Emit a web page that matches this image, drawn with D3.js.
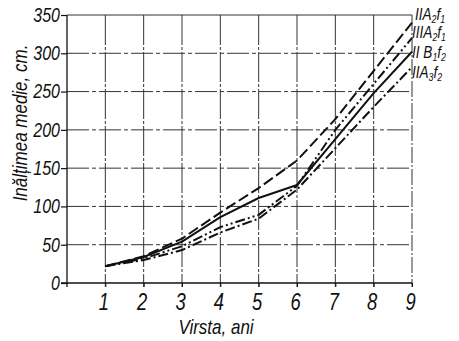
<!DOCTYPE html>
<html>
<head>
<meta charset="utf-8">
<script src="https://cdn.jsdelivr.net/npm/d3@7"></script>
<style>
  body { margin: 0; background: #fff; }
  svg text { font-family: "Liberation Sans", Arial, sans-serif; font-style: italic; fill: #111; }
</style>
</head>
<body>
<div id="chart"></div>
<script>
const ages = [1, 2, 3, 4, 5, 6, 7, 8, 9];
const seriesIIA2f1 = [22, 35, 58, 92, 124, 160, 214, 277, 340];
const seriesIIIA2f1 = [22, 32, 48, 73, 89, 127, 200, 260, 320];
const seriesIIB1f2 = [22, 34, 54, 86, 111, 128, 188, 248, 302];
const seriesIIA3f2 = [22, 30, 43, 66, 84, 122, 176, 230, 282];
const xTicks = [1, 2, 3, 4, 5, 6, 7, 8, 9];
const yTicks = [0, 50, 100, 150, 200, 250, 300, 350];

const series = [
    { base: "II", a: "A", s1: "2", f: "f", s2: "1", values: seriesIIA2f1, dash: "11,4" },
    { base: "III", a: "A", s1: "2", f: "f", s2: "1", values: seriesIIIA2f1, dash: "10,3,2,3,2,3" },
    { base: "II ", a: "B", s1: "1", f: "f", s2: "2", values: seriesIIB1f2, dash: null },
    { base: "II", a: "A", s1: "3", f: "f", s2: "2", values: seriesIIA3f2, dash: "10,3,2,3" }
];

const svgWidth = 459;
const svgHeight = 341;
const narrow = 0.8; // squeeze the italic type horizontally, like the original lettering

const svg = d3.select("#chart")
    .append("svg")
    .attr("width", svgWidth)
    .attr("height", svgHeight);

const x = d3.scaleLinear().domain([0, 9]).range([67, 412]);
const y = d3.scaleLinear().domain([0, 350]).range([283, 15]);

// grid
svg.append("g")
    .selectAll("line")
    .data(xTicks)
    .enter().append("line")
    .attr("x1", d => x(d)).attr("x2", d => x(d))
    .attr("y1", y(350)).attr("y2", y(0) + 4)
    .attr("stroke", "#333")
    .attr("stroke-width", 1)
    .attr("stroke-dasharray", d => d === 9 ? "16,2,2,2" : "30,2,3,2");

svg.append("g")
    .selectAll("line")
    .data(yTicks.filter(d => d > 0))
    .enter().append("line")
    .attr("x1", x(0)).attr("x2", x(9))
    .attr("y1", d => y(d)).attr("y2", d => y(d))
    .attr("stroke", "#333")
    .attr("stroke-width", 1)
    .attr("stroke-dasharray", d => d === 350 ? null : "22,3,4,3");

// axes
const yAxis = svg.append("g")
    .attr("transform", `translate(${x(0)},0)`)
    .call(d3.axisLeft(y).tickValues(yTicks).tickSize(6).tickPadding(1));
yAxis.select(".domain").attr("stroke", "#111").attr("stroke-width", 1.3)
    .attr("d", `M0,${y(350)}V${y(0) + 4}`);
yAxis.selectAll(".tick line").attr("stroke", "#111").attr("stroke-width", 1.2);
yAxis.selectAll(".tick text")
    .attr("font-size", 20)
    .attr("font-family", null)
    .attr("fill", "#111")
    .attr("x", -7 / narrow)
    .attr("transform", `scale(${narrow},1)`);

const xAxis = svg.append("g")
    .attr("transform", `translate(0,${y(0)})`)
    .call(d3.axisBottom(x).tickValues(xTicks).tickSize(4).tickPadding(7));
xAxis.select(".domain").attr("stroke", "#111").attr("stroke-width", 1.3)
    .attr("d", `M${x(0) - 6},0H${x(9)}`);
xAxis.selectAll(".tick line").attr("stroke", "#111");
xAxis.selectAll(".tick text")
    .attr("font-size", 23)
    .attr("font-family", null)
    .attr("fill", "#111")
    .attr("x", -2 / narrow)
    .attr("transform", `scale(${narrow},1)`);

// axis titles
svg.append("text")
    .attr("transform", `translate(216,334) scale(${narrow + 0.05},1)`)
    .attr("text-anchor", "middle")
    .attr("font-size", 20)
    .text("Virsta, ani");

svg.append("text")
    .attr("transform", `translate(27,123) rotate(-90) scale(${narrow + 0.05},1)`)
    .attr("text-anchor", "middle")
    .attr("font-size", 20)
    .text("Inălțimea medie, cm.");

// lines
const line = d3.line()
    .x((d, i) => x(ages[i]))
    .y(d => y(d));

svg.append("g")
    .selectAll("path")
    .data(series)
    .enter().append("path")
    .attr("fill", "none")
    .attr("stroke", "#111")
    .attr("stroke-width", 2)
    .attr("stroke-linejoin", "round")
    .attr("stroke-dasharray", d => d.dash)
    .attr("d", d => line(d.values));

// end labels
const labelY = [14, 32, 52, 72];
const labels = svg.append("g")
    .selectAll("text")
    .data(series)
    .enter().append("text")
    .attr("transform", (d, i) => `translate(${i === 0 ? 415 : 412},${labelY[i] + 6}) scale(${narrow},1)`)
    .attr("font-size", 17);

labels.append("tspan").text(d => d.base + d.a);
labels.append("tspan").attr("font-size", 11).attr("dy", 3).text(d => d.s1);
labels.append("tspan").attr("dy", -3).text(d => d.f);
labels.append("tspan").attr("font-size", 11).attr("dy", 3).text(d => d.s2);
</script>
</body>
</html>
